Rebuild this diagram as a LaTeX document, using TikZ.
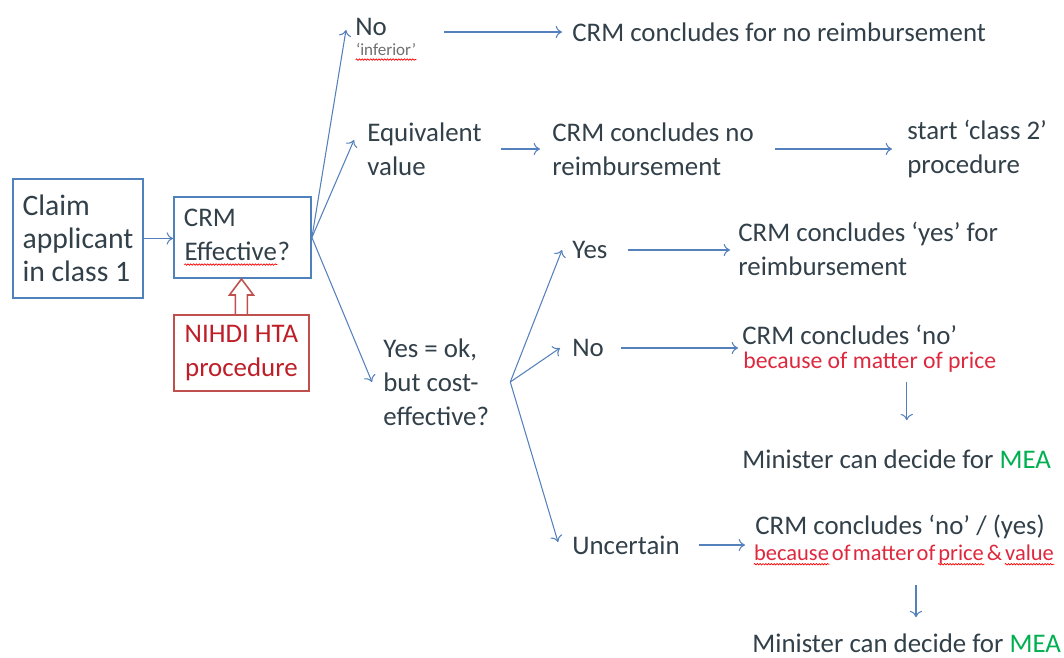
\documentclass[tikz,border=0pt]{standalone}
\usepackage{fontspec}
\setmainfont{Carlito}
\usetikzlibrary{calc,arrows.meta,decorations.pathmorphing}
\definecolor{lineblue}{RGB}{84,128,188}
\definecolor{boxblue}{RGB}{79,129,189}
\definecolor{txtgrey}{RGB}{50,64,74}
\definecolor{boxred}{RGB}{192,80,77}
\definecolor{darkred}{RGB}{190,30,40}
\definecolor{notered}{RGB}{222,40,62}
\definecolor{infgrey}{RGB}{110,110,110}
\definecolor{meagreen}{RGB}{0,176,80}
\newcommand{\mea}{\textcolor{meagreen}{MEA}}
\newcommand{\spell}[2][txtgrey]{\tikz[baseline=(w.base)]{\node[inner sep=0pt,minimum size=0pt,
  text width=,align=left,draw=none,text=#1] (w) {#2};
  \draw[red,line width=0.4pt,decorate,decoration={snake,amplitude=0.4pt,segment length=1.6pt}]
  ([yshift=-2.2pt]w.base west) -- ([yshift=-2.2pt]w.base east);}}

\begin{document}
\begin{tikzpicture}[x=0.02cm,y=-0.02cm,
  txt/.style={inner sep=0pt,anchor=west,align=left,text=txtgrey,
    font=\fontsize{15.3}{19.3}\selectfont},
  note/.style={inner sep=0pt,anchor=west,text=notered,
    font=\fontsize{13.5}{16}\selectfont},
  box/.style={draw=boxblue,line width=1.1pt,anchor=north west,align=left,
    text=txtgrey,inner ysep=0pt,font=\fontsize{15.3}{19.3}\selectfont},
  arr/.style={-{To[length=3.6pt,width=7pt]},draw=lineblue,line width=0.6pt}]
\useasboundingbox (0,0) rectangle (1064,657);

% claim and the CRM question
\node[box,minimum width=2.6cm,minimum height=2.38cm,
  font=\fontsize{16.9}{18.8}\selectfont] (claim) at (12,178) {Claim\\applicant\\in class 1};
\node[box,minimum width=2.74cm,minimum height=1.62cm,text width=2.34cm,inner xsep=0.2cm]
  (crm) at (173,196) {CRM\\\spell{Effective}?};
\node[box,draw=boxred,align=center,text=darkred,minimum width=2.7cm,minimum height=1.52cm]
  (nihdi) at (173,314) {NIHDI HTA\\procedure};
\draw[boxred,line width=0.9pt] (nihdi.north) ++(-6,0) -- ++(0,-19) -- ++(-6,0)
  -- ++(12,-16) -- ++(12,16) -- ++(-6,0) -- ++(0,19);
\draw[arr] (claim.east) -- (claim.east -| crm.west);

% answers
\node[txt] (no1) at (355,27) {No};
\node[txt,font=\fontsize{9.7}{11}\selectfont] (inf) at (355,52) {\spell[infgrey]{‘inferior’}};
\node[txt] (noconc) at (572,32) {CRM concludes for no reimbursement};
\node[txt] (equiv) at (367,149) {Equivalent\\value};
\node[txt] (concno) at (552,149) {CRM concludes no\\reimbursement};
\node[txt] (class2) at (907,149) {start ‘class 2’\\procedure};
\node[txt] (yesok) at (383,382) {Yes = ok,\\but cost-\\effective?};

\draw[arr] (crm.east) -- ([shift={(-0.18cm,-0.06cm)}]no1.west);
\draw[arr] (crm.east) -- ([shift={(-0.26cm,0.18cm)}]equiv.west);
\draw[arr] (crm.east) -- ([xshift=-0.22cm]yesok.west);
\draw[arr,shorten <=0.54cm,shorten >=0.2cm] (inf.east |- noconc.west) -- (noconc.west);
\draw[arr,shorten <=0.38cm,shorten >=0.24cm] (equiv.east) -- (concno.west);
\draw[arr,shorten <=0.42cm,shorten >=0.3cm] (concno.east) -- (class2.west);

% cost-effectiveness
\node[txt] (yes) at (572,250) {Yes};
\node[txt] (concyes) at (738,249) {CRM concludes ‘yes’ for\\reimbursement};
\node[txt] (no2) at (572,348) {No};
\node[txt] (concno2) at (742,335) {CRM concludes ‘no’};
\node[note] (price1) at (743,362) {because of matter of price};
\node[txt] (min1) at (742,459) {Minister can decide for \mea};
\node[txt] (unc) at (572,545) {Uncertain};
\node[txt] (concunc) at (755,527) {CRM concludes ‘no’ / (yes)};
\node[note,font=\fontsize{12.8}{15}\selectfont] (price2) at (753,555)
  {\spaceskip=0.1em\spell[notered]{because} of matter of \spell[notered]{price} \& \spell[notered]{value}};
\node[txt] (min2) at (752,643) {Minister can decide for \mea};

\coordinate (split) at ([xshift=0.42cm]yesok.east);
\draw[arr] (split) -- ([xshift=-0.2cm]yes.west);
\draw[arr] (split) -- ([xshift=-0.24cm]no2.west);
\draw[arr] (split) -- ([shift={(-0.28cm,0.06cm)}]unc.west);
\draw[arr,shorten <=0.4cm,shorten >=0.16cm] (yes.east) -- (yes.east -| concyes.west);
\draw[arr,shorten <=0.34cm,shorten >=0.08cm] (no2.east) -- (no2.east -| concno2.west);
\draw[arr,shorten <=0.38cm,shorten >=0.2cm] (unc.east) -- (unc.east -| concunc.west);

\coordinate (dn1) at ([xshift=0.74cm]price1.south);
\draw[arr,shorten <=0.18cm,shorten >=0.58cm] (dn1) -- (dn1 |- min1.north);
\coordinate (dn2) at ([xshift=0.24cm]price2.south);
\draw[arr,shorten <=0.38cm,shorten >=0.32cm] (dn2) -- (dn2 |- min2.north);

\end{tikzpicture}
\end{document}
